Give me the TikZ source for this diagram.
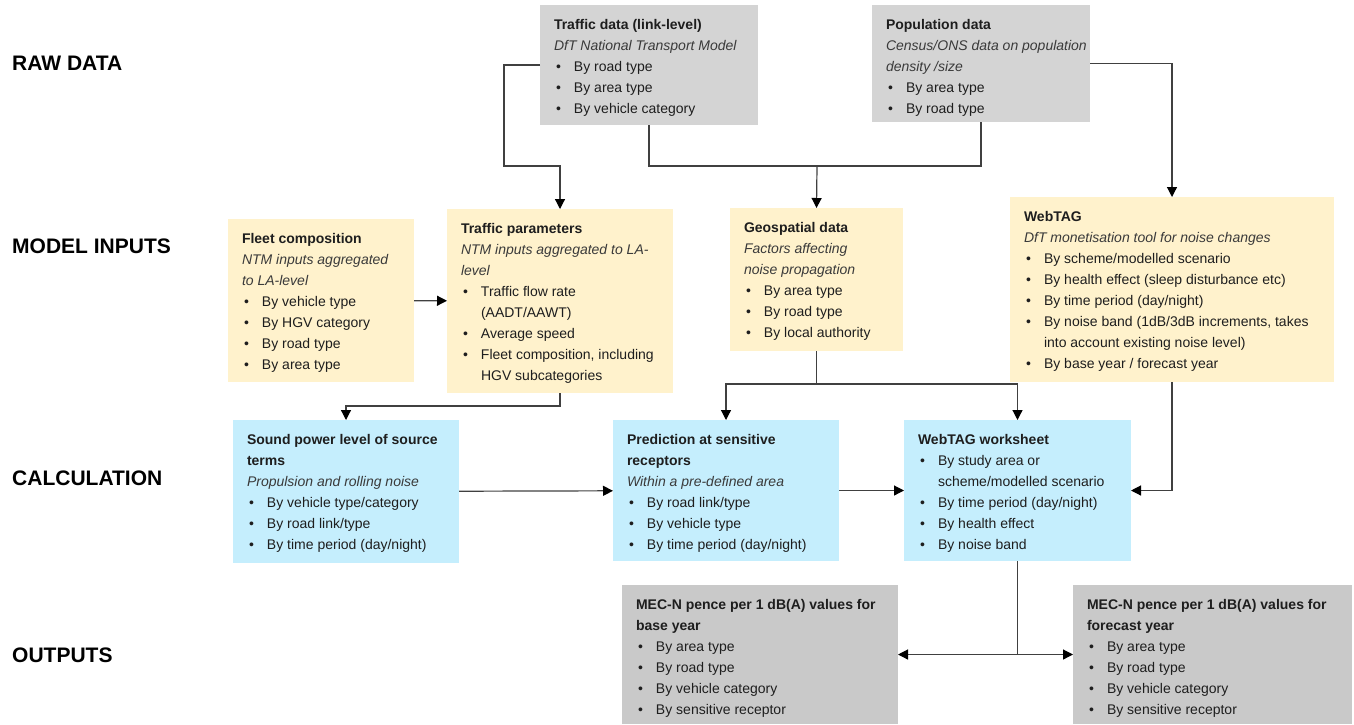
\documentclass[tikz,border=0pt]{standalone}
\usepackage{fontspec}
\setmainfont{Liberation Sans}
\usetikzlibrary{arrows.meta}

\definecolor{rawgrey}{HTML}{D4D4D4}
\definecolor{outgrey}{HTML}{C9C9C9}
\definecolor{inbeige}{HTML}{FFF2CC}
\definecolor{calcblue}{HTML}{C5EEFD}
\definecolor{wiregrey}{HTML}{404040}
\definecolor{textblack}{HTML}{1E1E1E}
\definecolor{subgrey}{HTML}{3A3A3A}

% box content: width, height, text
\newcommand{\panel}[3]{\parbox[t][#2][t]{#1}{\fontsize{14}{21}\selectfont
  \leftskip=14pt \rightskip=0pt plus 1fil \parfillskip=0pt plus 1fil
  \color{textblack}\rule{0pt}{24pt}#3}}
\newcommand{\ttl}[1]{\textbf{#1}}
\newcommand{\subtxt}[1]{\par{\itshape\color{subgrey}#1}}
\newcommand{\bul}[1]{\par\hangindent=20pt\hangafter=1
  \makebox[20pt][l]{\hspace{2pt}\textbullet}#1}

\begin{document}
\begin{tikzpicture}[x=1pt, y=-1pt,
    blk/.style ={anchor=north west, inner sep=0pt, outer sep=0pt},
    rawdata/.style ={blk, fill=rawgrey},
    modelinput/.style ={blk, fill=inbeige},
    calcstep/.style ={blk, fill=calcblue},
    output/.style ={blk, fill=outgrey},
    stage/.style ={anchor=west, inner sep=0pt, text=black,
      font=\fontsize{21}{25}\selectfont\bfseries},
    wire/.style ={draw=wiregrey, line width=1.2pt},
    flow/.style ={wire, -{Triangle[length=10pt,width=10pt,color=black]}}]
   \useasboundingbox (0,0) rectangle (1354,724);

   % row labels
   \node[stage] (lraw)  at (12,63)  {RAW DATA};
   \node[stage] (lin)   at (12,246) {MODEL INPUTS};
   \node[stage] (lcalc) at (12,478) {CALCULATION};
   \node[stage] (lout)  at (12,655) {OUTPUTS};

   % raw data
   \node[rawdata] (TD) at (540,5) {\panel{218pt}{120pt}{\ttl{Traffic data (link-level)}
     \subtxt{DfT National Transport Model}
     \bul{By road type}\bul{By area type}\bul{By vehicle category}}};
   \node[rawdata] (PD) at (872,5) {\panel{218pt}{117pt}{\ttl{Population data}
     \subtxt{Census/ONS data on population\\density /size}
     \bul{By area type}\bul{By road type}}};

   % model inputs
   \node[modelinput] (FC) at (228,219) {\panel{186pt}{163pt}{\ttl{Fleet composition}
     \subtxt{NTM inputs aggregated\\to LA-level}
     \bul{By vehicle type}\bul{By HGV category}\bul{By road type}\bul{By area type}}};
   \node[modelinput] (TP) at (447,209) {\panel{226pt}{184pt}{\ttl{Traffic parameters}
     \subtxt{NTM inputs aggregated to LA-\\level}
     \bul{Traffic flow rate\\(AADT/AAWT)}\bul{Average speed}
     \bul{Fleet composition, including\\HGV subcategories}}};
   \node[modelinput] (GD) at (730,208) {\panel{173pt}{143pt}{\ttl{Geospatial data}
     \subtxt{Factors affecting\\noise propagation}
     \bul{By area type}\bul{By road type}\bul{By local authority}}};
   \node[modelinput] (WT) at (1010,197) {\panel{324pt}{185pt}{\ttl{WebTAG}
     \subtxt{DfT monetisation tool for noise changes}
     \bul{By scheme/modelled scenario}
     \bul{By health effect (sleep disturbance etc)}
     \bul{By time period (day/night)}
     \bul{By noise band (1dB/3dB increments, takes\\into account existing noise level)}
     \bul{By base year / forecast year}}};

   % calculation
   \node[calcstep] (SP) at (233,420) {\panel{226pt}{143pt}{\ttl{Sound power level of source\\terms}
     \subtxt{Propulsion and rolling noise}
     \bul{By vehicle type/category}\bul{By road link/type}\bul{By time period (day/night)}}};
   \node[calcstep] (PS) at (613,420) {\panel{226pt}{141pt}{\ttl{Prediction at sensitive\\receptors}
     \subtxt{Within a pre-defined area}
     \bul{By road link/type}\bul{By vehicle type}\bul{By time period (day/night)}}};
   \node[calcstep] (WS) at (904,420) {\panel{227pt}{141pt}{\ttl{WebTAG worksheet}
     \bul{By study area or\\scheme/modelled scenario}
     \bul{By time period (day/night)}\bul{By health effect}\bul{By noise band}}};

   % outputs
   \node[output] (MB) at (622,585) {\panel{276pt}{139pt}{\ttl{MEC-N pence per 1 dB(A) values for\\base year}
     \bul{By area type}\bul{By road type}\bul{By vehicle category}\bul{By sensitive receptor}}};
   \node[output] (MF) at (1073,585) {\panel{279pt}{139pt}{\ttl{MEC-N pence per 1 dB(A) values for\\forecast year}
     \bul{By area type}\bul{By road type}\bul{By vehicle category}\bul{By sensitive receptor}}};

   \coordinate (bend) at (504,166);
   \coordinate (join) at (817,166);

   \draw[flow] (TD.west) -| (bend) -| (TP.north);
   \draw[wire] (TD.south) |- (join) -| (PD.south);
   \draw[flow] (join) to (GD.north);
   \draw[flow] (PD.east) -| (WT.north);
   \draw[flow] (FC) to (TP);
   \draw[flow] (TP.south) -- ++(0,13) -| (SP.north);
   \draw[flow] (GD.south) -- ++(0,33) -| (PS.north);
   \draw[flow] (GD.south) -- ++(0,33) -| (WS.north);
   \draw[flow] (SP) to (PS);
   \draw[flow] (PS) to (WS);
   \draw[flow] (WT.south) |- (WS.east);
   \draw[flow] (WS.south) |- (MB.east);
   \draw[flow] (WS.south) |- (MF.west);

 \end{tikzpicture}
\end{document}
